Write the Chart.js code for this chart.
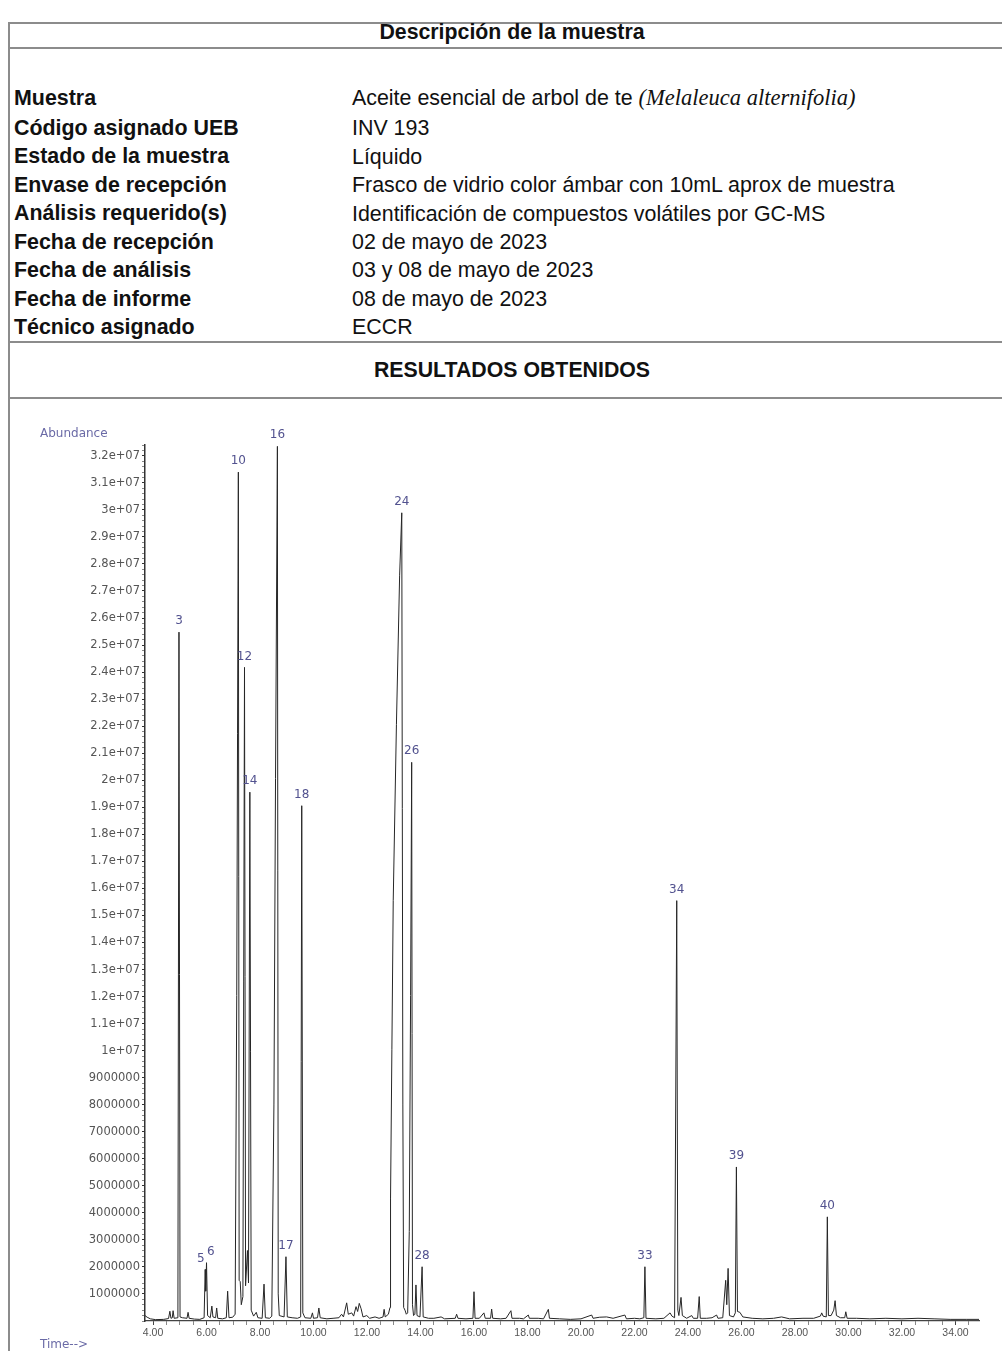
<!DOCTYPE html>
<html lang="es">
<head>
<meta charset="utf-8">
<title>Descripción de la muestra – INV 193</title>
<script src="https://cdn.jsdelivr.net/npm/chart.js@4/dist/chart.umd.min.js"></script>
<style>
  html, body { margin: 0; padding: 0; background: #fff; }
  body { width: 1002px; height: 1351px; position: relative; overflow: hidden;
         font-family: "Liberation Sans", Arial, sans-serif; color: #111; }
  .hline { position: absolute; left: 8px; right: 0; height: 2px; background: #8c8c8c; }
  .vline { position: absolute; left: 8px; top: 22px; bottom: 0; width: 2px; background: #8c8c8c; }
  .title { position: absolute; left: 10px; right: -12px; text-align: center; font-weight: bold;
           font-size: 21.3px; line-height: 24px; }
  .lab { position: absolute; left: 14px; font-weight: bold; font-size: 21.4px; line-height: 24px; white-space: nowrap; }
  .val { position: absolute; left: 352px; font-size: 21.4px; line-height: 24px; white-space: nowrap; }
  .val i { font-family: "Liberation Serif", "Times New Roman", serif; font-size: 22.5px; }
  #wrap { position: absolute; left: 0; top: 400px; width: 1002px; height: 951px; }
  .axname { position: absolute; left: 40px; font-family: "DejaVu Sans", sans-serif; font-size: 12px;
            line-height: 14px; color: #6a6aa6; }
</style>
</head>
<body>
<div class="vline"></div>
<div class="hline" style="top:22px"></div>
<div class="title" style="top:20px">Descripción de la muestra</div>
<div class="hline" style="top:47px"></div>

<div class="lab" style="top:86px">Muestra</div>
<div class="val" style="top:86px">Aceite esencial de arbol de te <i>(Melaleuca alternifolia)</i></div>
<div class="lab" style="top:116px">Código asignado UEB</div>
<div class="val" style="top:116px">INV 193</div>
<div class="lab" style="top:144px">Estado de la muestra</div>
<div class="val" style="top:145px">Líquido</div>
<div class="lab" style="top:173px">Envase de recepción</div>
<div class="val" style="top:173px">Frasco de vidrio color ámbar con 10mL aprox de muestra</div>
<div class="lab" style="top:201px">Análisis requerido(s)</div>
<div class="val" style="top:202px">Identificación de compuestos volátiles por GC-MS</div>
<div class="lab" style="top:230px">Fecha de recepción</div>
<div class="val" style="top:230px">02 de mayo de 2023</div>
<div class="lab" style="top:258px">Fecha de análisis</div>
<div class="val" style="top:258px">03 y 08 de mayo de 2023</div>
<div class="lab" style="top:287px">Fecha de informe</div>
<div class="val" style="top:287px">08 de mayo de 2023</div>
<div class="lab" style="top:315px">Técnico asignado</div>
<div class="val" style="top:315px">ECCR</div>

<div class="hline" style="top:341px"></div>
<div class="title" style="top:358px">RESULTADOS OBTENIDOS</div>
<div class="hline" style="top:397px"></div>

<div id="wrap"><canvas id="tic" width="1002" height="951"></canvas></div>
<div class="axname" style="top:426px">Abundance</div>
<div class="axname" style="top:1337px">Time--&gt;</div>

<script>
// Total ion chromatogram: retention time (min) and abundance (counts)
const traceTime = [
  3.70, 3.78, 3.90, 4.10, 4.40, 4.58, 4.63, 4.67, 4.72, 4.75, 4.79, 4.93, 4.97, 5.01, 5.10,
  5.27, 5.31, 5.35, 5.55, 5.75, 5.91, 5.95, 5.97, 6.00, 6.04, 6.14, 6.20, 6.24, 6.34, 6.38,
  6.42, 6.60, 6.74, 6.79, 6.84, 6.98, 7.07, 7.13, 7.19, 7.22, 7.26, 7.30, 7.36, 7.42, 7.46,
  7.53, 7.57, 7.62, 7.67, 7.76, 7.86, 7.92, 8.08, 8.15, 8.20, 8.36, 8.44, 8.52, 8.58, 8.65,
  8.68, 8.72, 8.90, 8.97, 9.02, 9.20, 9.40, 9.52, 9.56, 9.60, 9.68, 9.90, 9.96, 10.00, 10.15,
  10.20, 10.25, 10.50, 10.73, 10.95, 11.05, 11.12, 11.24, 11.30, 11.43, 11.50, 11.59, 11.65, 11.71, 11.78,
  11.85, 11.99, 12.10, 12.30, 12.45, 12.60, 12.64, 12.68, 12.80, 12.86, 12.88, 12.93, 12.98, 13.10, 13.22,
  13.30, 13.34, 13.37, 13.42, 13.47, 13.52, 13.58, 13.63, 13.67, 13.70, 13.74, 13.79, 13.83, 13.87, 13.98,
  14.06, 14.10, 14.30, 14.50, 14.77, 14.90, 15.30, 15.35, 15.40, 15.70, 15.96, 16.00, 16.04, 16.20, 16.37,
  16.42, 16.62, 16.66, 16.70, 17.00, 17.20, 17.38, 17.42, 17.70, 17.85, 18.03, 18.07, 18.40, 18.60, 18.78,
  18.82, 19.20, 19.60, 20.00, 20.40, 20.45, 20.70, 20.96, 21.20, 21.64, 21.70, 22.00, 22.20, 22.35, 22.39,
  22.43, 22.80, 23.10, 23.33, 23.40, 23.50, 23.58, 23.62, 23.66, 23.74, 23.79, 23.95, 24.14, 24.20, 24.36,
  24.42, 24.46, 24.70, 24.90, 25.07, 25.12, 25.30, 25.41, 25.45, 25.50, 25.55, 25.70, 25.77, 25.81, 25.85,
  25.94, 26.05, 26.40, 26.80, 27.20, 27.50, 27.80, 28.30, 28.70, 28.95, 29.00, 29.05, 29.17, 29.21, 29.25,
  29.35, 29.45, 29.50, 29.55, 29.70, 29.86, 29.90, 29.95, 30.30, 30.80, 31.40, 32.00, 32.60, 33.20, 33.80,
  34.40, 34.88
];
const traceAbund = [
  0.20e6, 0.14e6, 0.08e6, 0.05e6, 0.06e6, 0.09e6, 0.36e6, 0.10e6, 0.12e6, 0.38e6, 0.10e6, 0.12e6, 25.4e6, 0.15e6, 0.12e6,
  0.10e6, 0.32e6, 0.10e6, 0.07e6, 0.06e6, 0.12e6, 1.90e6, 1.10e6, 2.15e6, 0.20e6, 0.12e6, 0.55e6, 0.15e6, 0.12e6, 0.48e6,
  0.10e6, 0.08e6, 0.12e6, 1.10e6, 0.12e6, 0.14e6, 0.25e6, 12.0e6, 31.3e6, 1.50e6, 1.45e6, 0.60e6, 0.90e6, 24.1e6, 1.30e6,
  2.60e6, 1.40e6, 19.5e6, 0.40e6, 0.18e6, 0.32e6, 0.12e6, 0.10e6, 1.36e6, 0.12e6, 0.10e6, 0.18e6, 8.0e6, 20.0e6, 32.25e6,
  1.00e6, 0.20e6, 0.15e6, 2.37e6, 0.15e6, 0.12e6, 0.10e6, 0.15e6, 19.0e6, 0.30e6, 0.12e6, 0.10e6, 0.30e6, 0.10e6, 0.12e6,
  0.48e6, 0.12e6, 0.08e6, 0.10e6, 0.12e6, 0.25e6, 0.15e6, 0.67e6, 0.25e6, 0.30e6, 0.18e6, 0.53e6, 0.35e6, 0.65e6, 0.45e6,
  0.15e6, 0.20e6, 0.10e6, 0.15e6, 0.10e6, 0.15e6, 0.43e6, 0.15e6, 0.25e6, 0.50e6, 4.5e6, 10.0e6, 15.5e6, 22.0e6, 27.5e6,
  29.8e6, 8.0e6, 0.50e6, 0.40e6, 0.25e6, 0.30e6, 3.3e6, 12.0e6, 20.6e6, 0.60e6, 0.20e6, 0.25e6, 1.33e6, 0.20e6, 0.15e6,
  2.00e6, 0.15e6, 0.10e6, 0.10e6, 0.15e6, 0.08e6, 0.10e6, 0.25e6, 0.10e6, 0.08e6, 0.10e6, 1.08e6, 0.10e6, 0.10e6, 0.30e6,
  0.10e6, 0.10e6, 0.44e6, 0.10e6, 0.08e6, 0.10e6, 0.38e6, 0.10e6, 0.10e6, 0.08e6, 0.22e6, 0.10e6, 0.10e6, 0.08e6, 0.43e6,
  0.10e6, 0.08e6, 0.06e6, 0.08e6, 0.22e6, 0.10e6, 0.14e6, 0.15e6, 0.10e6, 0.22e6, 0.08e6, 0.10e6, 0.08e6, 0.12e6, 2.00e6,
  0.10e6, 0.08e6, 0.10e6, 0.30e6, 0.18e6, 0.12e6, 15.5e6, 0.40e6, 0.20e6, 0.87e6, 0.20e6, 0.10e6, 0.20e6, 0.10e6, 0.10e6,
  0.90e6, 0.10e6, 0.10e6, 0.12e6, 0.22e6, 0.10e6, 0.12e6, 1.50e6, 0.60e6, 1.94e6, 0.20e6, 0.15e6, 0.30e6, 5.68e6, 0.35e6,
  0.32e6, 0.15e6, 0.10e6, 0.08e6, 0.10e6, 0.15e6, 0.08e6, 0.10e6, 0.10e6, 0.18e6, 0.30e6, 0.18e6, 0.15e6, 3.84e6, 0.20e6,
  0.20e6, 0.40e6, 0.75e6, 0.20e6, 0.12e6, 0.12e6, 0.34e6, 0.10e6, 0.10e6, 0.08e6, 0.10e6, 0.08e6, 0.10e6, 0.08e6, 0.06e6,
  0.06e6, 0.06e6
];

// Integrated peaks: number and apex retention time (min)
const peakNums  = [3, 5, 6, 10, 12, 14, 16, 17, 18, 24, 26, 28, 33, 34, 39, 40];
const peakTimes = [4.97, 5.95, 6.00, 7.19, 7.42, 7.62, 8.65, 8.97, 9.56, 13.30, 13.67, 14.06, 22.39, 23.58, 25.81, 29.21];

// Axis ranges and tick spacing
const timeRange = [3.70, 34.88];
const abundRange = [0, 32.3e6];
const timeStep = 0.5, timeLabelEvery = 2;
const abundStep = 2e5, abundLabelEvery = 1e6;

function fmtAbund(v) {
  const r = Math.round(v / abundStep) * abundStep;
  if (r <= 0 || Math.round(r / 1e5) % Math.round(abundLabelEvery / 1e5) !== 0) return '';
  if (r >= 1e7) return (Math.round(r / 1e6) / 10) + 'e+07';
  return String(Math.round(r));
}
function fmtTime(v) {
  const k = Math.round(v / timeStep);
  return k % Math.round(timeLabelEvery / timeStep) === 0 ? (k * timeStep).toFixed(2) : '';
}

// Peak numbers written above each apex
const peakLabelPlugin = {
  id: 'peakLabels',
  afterDatasetsDraw(chart) {
    const { ctx, scales: { x, y } } = chart;
    const items = peakNums.map((n, i) => {
      const k = traceTime.indexOf(peakTimes[i]);
      return { text: String(n), px: x.getPixelForValue(peakTimes[i]),
               py: y.getPixelForValue(traceAbund[k]) - 11, align: 'center' };
    });
    for (let i = 1; i < items.length; i++) {
      const a = items[i - 1], b = items[i];
      if (Math.abs(b.px - a.px) < 10 && Math.abs(b.py - a.py) < 16) {
        a.align = 'right'; a.px -= 0.5;
        b.align = 'left'; b.px += 0.5;
      }
    }
    ctx.save();
    ctx.font = '12px "DejaVu Sans", sans-serif';
    ctx.fillStyle = '#52528f';
    ctx.textBaseline = 'middle';
    items.forEach(it => { ctx.textAlign = it.align; ctx.fillText(it.text, it.px, it.py); });
    ctx.restore();
  }
};

Chart.defaults.font.family = '"DejaVu Sans", sans-serif';

new Chart(document.getElementById('tic'), {
  type: 'line',
  data: {
    datasets: [{
      data: traceTime.map((t, i) => ({ x: t, y: traceAbund[i] })),
      borderColor: '#262626',
      borderWidth: 1,
      pointRadius: 0,
      tension: 0,
      fill: false
    }]
  },
  options: {
    responsive: false,
    animation: false,
    events: [],
    devicePixelRatio: 1,
    layout: { padding: { top: 45, right: 23, bottom: 0, left: 0 } },
    plugins: { legend: { display: false }, tooltip: { enabled: false } },
    scales: {
      x: {
        type: 'linear',
        min: timeRange[0], max: timeRange[1],
        afterFit(scale) { scale.height = 30; },
        border: { display: true, color: '#444', width: 1.2 },
        grid: { drawOnChartArea: false, drawTicks: true, tickLength: 4,
                tickColor: c => fmtTime(c.tick.value) ? '#444' : '#888' },
        ticks: { stepSize: timeStep, includeBounds: false, autoSkip: false, maxRotation: 0,
                 padding: 2, color: '#555',
                 font: { family: '"Liberation Sans", Arial, sans-serif', size: 10.5 },
                 callback: v => fmtTime(v) }
      },
      y: {
        type: 'linear',
        min: abundRange[0], max: abundRange[1],
        afterFit(scale) { scale.width = 145; },
        border: { display: true, color: '#333', width: 1.5 },
        grid: { drawOnChartArea: false, drawTicks: true, tickLength: 3,
                tickColor: c => fmtAbund(c.tick.value) ? '#333' : '#888' },
        ticks: { stepSize: abundStep, includeBounds: false, autoSkip: false,
                 padding: 2, color: '#555', font: { size: 11.5 },
                 callback: v => fmtAbund(v) }
      }
    }
  },
  plugins: [peakLabelPlugin]
});
</script>
</body>
</html>
